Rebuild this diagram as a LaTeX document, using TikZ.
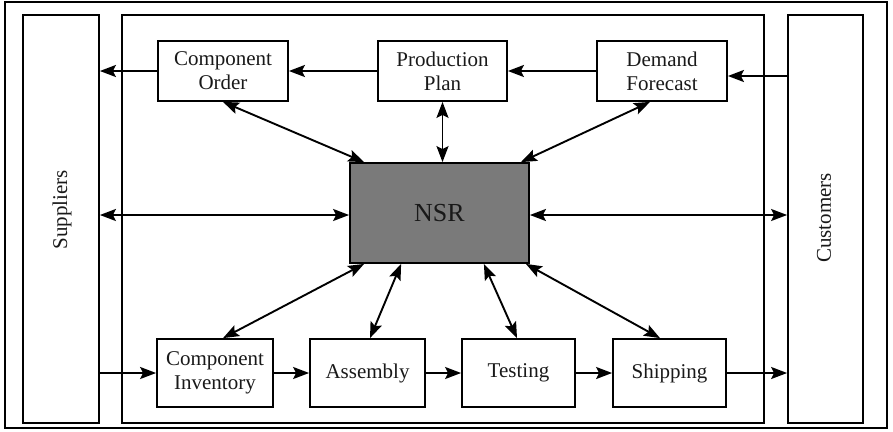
\documentclass[tikz,border=0pt]{standalone}
\usepackage{fontspec}
\setmainfont{Liberation Serif}
\usetikzlibrary{arrows.meta,calc}
\definecolor{nsrgray}{RGB}{122,122,122}
\definecolor{ink}{RGB}{25,25,25}
\begin{document}
\begin{tikzpicture}[x=1pt,y=-1pt,
  lbl/.style={font=\fontsize{21}{24}\selectfont,text=ink},
  procbox/.style={draw,line width=1.8pt,align=center,inner sep=0pt,lbl},
  sidebox/.style={draw,line width=1.8pt,inner sep=0pt,minimum width=76pt,minimum height=408pt},
  tip/.style={Stealth[length=16pt,width=12pt,inset=3pt]},
  flow/.style={line width=1.9pt,-{Stealth[length=16pt,width=12pt,inset=3pt]}},
  link/.style={line width=1.9pt,{Stealth[length=16pt,width=12pt,inset=3pt]}-{Stealth[length=16pt,width=12pt,inset=3pt]}}]
  \useasboundingbox (0,0) rectangle (893,431);
  \draw[line width=1.4pt] (5,2) rectangle (887,428);

  % side parties and enterprise boundary
  \node[sidebox] (sup) at (61,219) {};
  \node[lbl,rotate=90] (suplbl) at (62,210) {Suppliers};
  \node[sidebox,minimum width=75pt] (cus) at (825.5,219) {};
  \node[lbl,rotate=90] (cuslbl) at (824,218) {Customers};
  \node[draw,line width=1.8pt,minimum width=642pt,minimum height=408pt] (ent) at (443,219) {};

  % planning row
  \node[procbox,minimum width=130pt,minimum height=60pt] (co) at (223,71) {Component\\Order};
  \node[procbox,minimum width=129pt,minimum height=60pt] (pp) at (442.5,71) {Production\\Plan};
  \node[procbox,minimum width=130pt,minimum height=60pt] (df) at (662,71) {Demand\\Forecast};

  % central hub
  \node[draw,line width=1.8pt,fill=nsrgray,minimum width=179pt,minimum height=100pt,
        font=\fontsize{26}{29}\selectfont,text=ink] (nsr) at (439.5,213) {NSR};

  % execution row
  \node[procbox,minimum width=116pt,minimum height=68pt] (ci) at (215,373) {Component\\Inventory};
  \node[procbox,minimum width=115pt,minimum height=68pt] (as) at (367.5,373) {Assembly};
  \node[procbox,minimum width=113pt,minimum height=68pt] (te) at (518.5,373) {Testing};
  \node[procbox,minimum width=113pt,minimum height=68pt] (sh) at (669.5,373) {Shipping};

  % planning flow
  \draw[flow] ([yshift=-5pt]df.east -| cus.west) -- ([yshift=-5pt]df.east);
  \draw[flow] (df.west) -- (pp.east);
  \draw[flow] (pp.west) -- (co.east);
  \draw[flow] (co.west) -- (co.west -| sup.east);

  % material flow
  \draw[flow] (ci.west -| sup.east) -- (ci.west);
  \draw[flow] (ci.east) -- (as.west);
  \draw[flow] (as.east) -- (te.west);
  \draw[flow] (te.east) -- (sh.west);
  \draw[flow] (sh.east) -- (sh.east -| cus.west);

  % information links to the hub
  \draw[link] (co.south) -- ([xshift=15pt]nsr.north west);
  \draw[link] (pp.south) -- (pp.south |- nsr.north);
  \draw[link] ([xshift=-12pt]df.south) -- ([xshift=-9pt]nsr.north east);
  \draw[link] ([yshift=-2pt]nsr.west -| sup.east) -- ([yshift=-2pt]nsr.west);
  \draw[link] ([yshift=-2pt]nsr.east) -- ([yshift=-2pt]nsr.east -| cus.west);
  \draw[link] ([xshift=15pt]nsr.south west) -- ([xshift=8pt]ci.north);
  \draw[link] ([xshift=52pt]nsr.south west) -- ([xshift=2.5pt]as.north);
  \draw[link] ([xshift=-46pt]nsr.south east) -- ([xshift=-1.5pt]te.north);
  \draw[link] ([xshift=-4pt]nsr.south east) -- ([xshift=-9.5pt]sh.north);
\end{tikzpicture}
\end{document}
